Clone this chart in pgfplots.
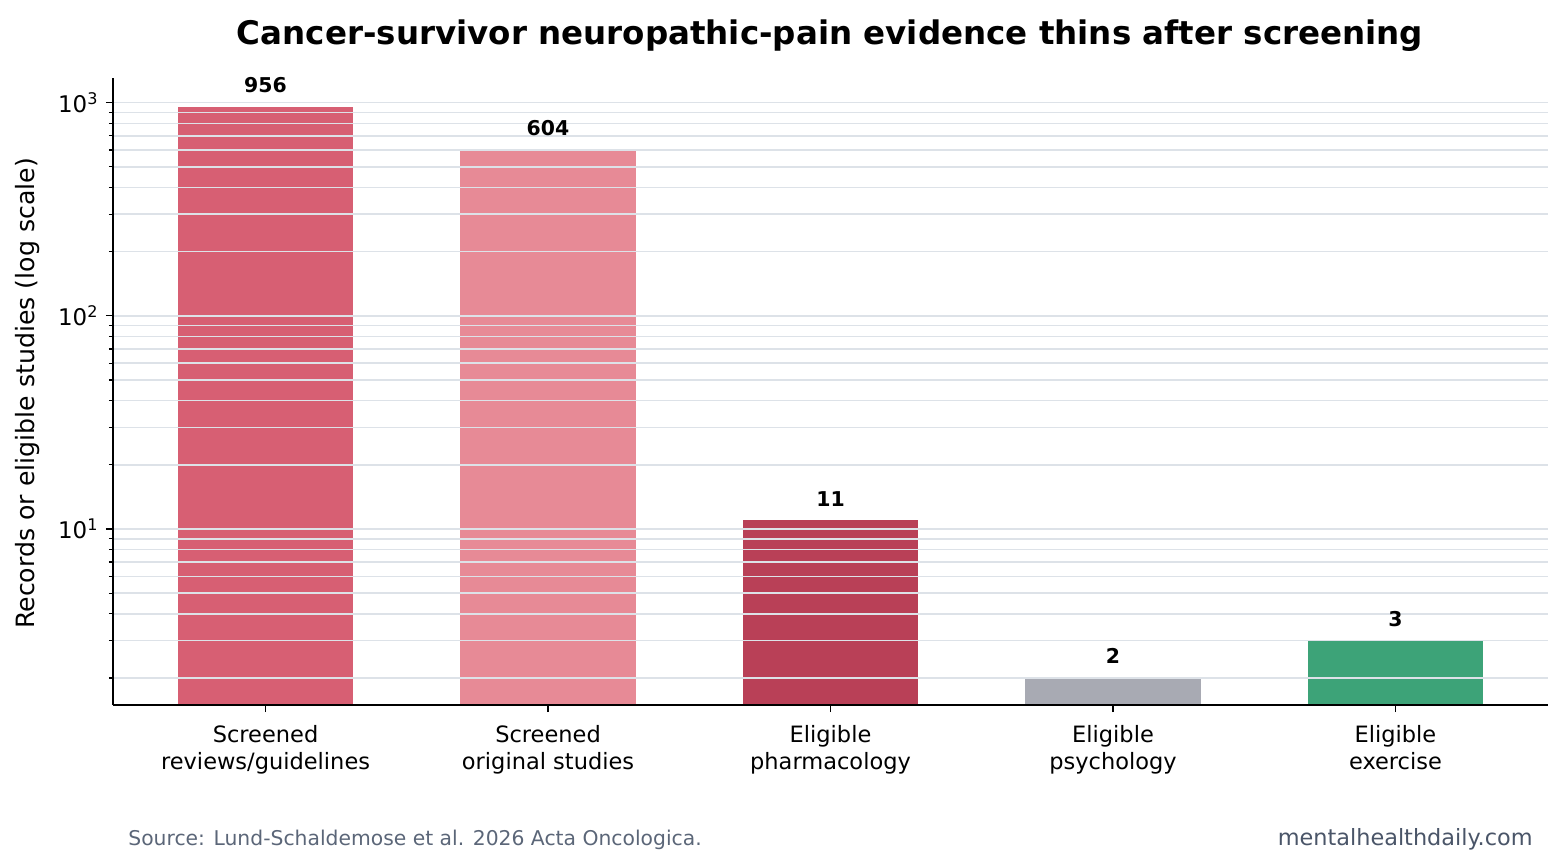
\documentclass[border=0pt]{standalone}
\usepackage{pgfplots}
\pgfplotsset{compat=1.18}
\usepackage{fontspec}
\setmainfont{DejaVu Sans}
\definecolor{c1}{HTML}{D75F73}
\definecolor{c2}{HTML}{E78A96}
\definecolor{c3}{HTML}{B94057}
\definecolor{c4}{HTML}{A8AAB3}
\definecolor{c5}{HTML}{3DA378}
\definecolor{gridc}{HTML}{DDE2E8}
\definecolor{srcc}{HTML}{5B6678}
\definecolor{wmc}{HTML}{4A5568}
\begin{document}
\begin{tikzpicture}
\path[use as bounding box] (0pt,0pt) rectangle (751.2pt,416.16pt);
\begin{axis}[
  at={(54.24pt,77.76pt)}, anchor=south west,
  width=688.8pt, height=300.96pt, scale only axis,
  ymode=log, ymin=1.494, ymax=1306,
  xmin=-0.54, xmax=4.54,
  axis lines=left, axis line style={-, line width=0.7pt},
  axis on top,
  xtick={0,1,2,3,4},
  xticklabels={Screened\\reviews/guidelines, Screened\\original studies, Eligible\\pharmacology, Eligible\\psychology, Eligible\\exercise},
  xticklabel style={align=center, font=\fontsize{10.8}{13}\selectfont, yshift=-2.8pt},
  ytick={10,100,1000},
  yticklabels={10\textsuperscript{1},10\textsuperscript{2},10\textsuperscript{3}},
  yticklabel style={font=\fontsize{11}{13}\selectfont},
  minor ytick={2,3,4,5,6,7,8,9,20,30,40,50,60,70,80,90,200,300,400,500,600,700,800,900},
  tick align=outside,
  major tick length=3.4pt, minor tick length=2pt,
  tick style={black, line width=0.6pt},
  ymajorgrids, yminorgrids,
  major grid style={gridc, line width=0.75pt},
  minor grid style={gridc, line width=0.75pt},
  xmajorgrids=false,
  nodes near coords, point meta=explicit symbolic,
  every node near coord/.style={anchor=base, yshift=6.8pt, font=\fontsize{9.8}{12}\selectfont\bfseries, black},
  clip=true,
]
\addplot[ybar, bar width=0.62, fill=c1, draw=none] coordinates {(0,956) [956]};
\addplot[ybar, bar width=0.62, fill=c2, draw=none] coordinates {(1,604) [604]};
\addplot[ybar, bar width=0.62, fill=c3, draw=none] coordinates {(2,11) [11]};
\addplot[ybar, bar width=0.62, fill=c4, draw=none] coordinates {(3,2) [2]};
\addplot[ybar, bar width=0.62, fill=c5, draw=none] coordinates {(4,3) [3]};
\end{axis}
\node[anchor=base, font=\fontsize{15.6}{18}\selectfont\bfseries] at (398.4pt,395.04pt) {Cancer-survivor neuropathic-pain evidence thins after screening};
\node[rotate=90, anchor=center, font=\fontsize{12.1}{14}\selectfont] at (13.44pt,227.3pt) {Records or eligible studies (log scale)};
\node[anchor=base west, font=\fontsize{9.75}{12}\selectfont, text=srcc, inner sep=0pt] at (61.44pt,10.56pt) {Source: Lund-Schaldemose et al. 2026 Acta Oncologica.};
\node[anchor=base east, font=\fontsize{10.75}{13}\selectfont, text=wmc, inner sep=0pt] at (735.84pt,10.56pt) {mentalhealthdaily.com};
\end{tikzpicture}
\end{document}
